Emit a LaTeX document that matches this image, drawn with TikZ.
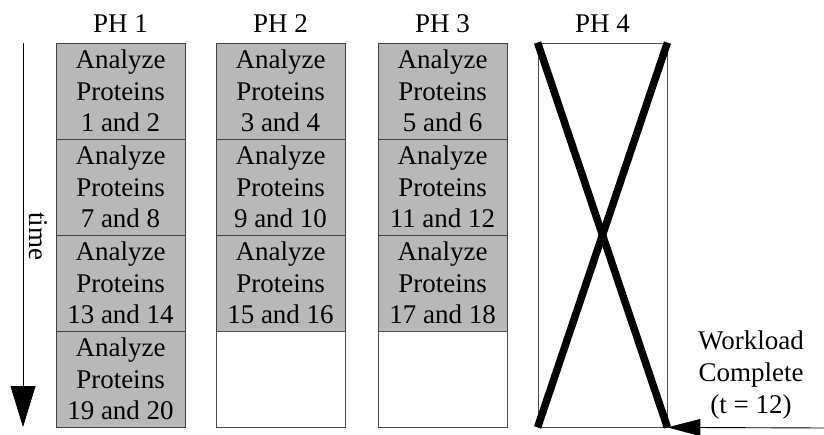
\documentclass[tikz,border=0pt]{standalone}
\usepackage{fontspec}
\setmainfont{Liberation Serif}
\usetikzlibrary{arrows.meta}
\definecolor{cellgray}{gray}{0.72}
\begin{document}
\begin{tikzpicture}[x=1pt,y=-1pt,
  txt/.style={font=\fontsize{27}{31.5}\selectfont, inner sep=0pt},
  cell/.style={txt, draw=black!75, line width=0.8pt, fill=cellgray,
    minimum width=129pt, minimum height=96pt, align=center},
  emptycell/.style={draw=black!70, line width=0.8pt, fill=white,
    minimum width=129pt, minimum height=96pt, inner sep=0pt},
  head/.style={txt},
  cross/.style={line width=7.5pt, black}]
\useasboundingbox (0,0) rectangle (824,435);

% processor headings
\node[head] (h1) at (120.5,24) {PH 1};
\node[head] (h2) at (280.5,24) {PH 2};
\node[head] (h3) at (442.5,24) {PH 3};
\node[head] (h4) at (602.5,24) {PH 4};

% PH 1
\node[cell] (a1) at (120.5,91)  {Analyze\\Proteins\\1 and 2};
\node[cell] (a2) at (120.5,187) {Analyze\\Proteins\\7 and 8};
\node[cell] (a3) at (120.5,283) {Analyze\\Proteins\\13 and 14};
\node[cell] (a4) at (120.5,379) {Analyze\\Proteins\\19 and 20};

% PH 2
\node[cell] (b1) at (280.5,91)  {Analyze\\Proteins\\3 and 4};
\node[cell] (b2) at (280.5,187) {Analyze\\Proteins\\9 and 10};
\node[cell] (b3) at (280.5,283) {Analyze\\Proteins\\15 and 16};
\node[emptycell] (b4) at (280.5,379) {};

% PH 3
\node[cell] (c1) at (442.5,91)  {Analyze\\Proteins\\5 and 6};
\node[cell] (c2) at (442.5,187) {Analyze\\Proteins\\11 and 12};
\node[cell] (c3) at (442.5,283) {Analyze\\Proteins\\17 and 18};
\node[emptycell] (c4) at (442.5,379) {};

% PH 4: idle processor, crossed out
\node[draw=black!70, line width=0.8pt, minimum width=129pt, minimum height=384pt,
  inner sep=0pt] (d) at (602.5,235) {};
\draw[cross] (d.north west) -- (d.south east);
\draw[cross] (d.north east) -- (d.south west);

% time axis
\coordinate (t0) at (23,43);
\coordinate (t1) at (23,427);
\draw[line width=0.9pt, -{Triangle[length=41pt,width=25pt]}] (t0) -- (t1);
\node[txt, rotate=-90] (time) at (38,236) {time};

% completion marker
\coordinate (e) at (824,428);
\draw[line width=0.9pt, -{Triangle[length=33pt,width=17pt]}] (e) -- (d.south east);
\node[txt, align=center, font=\fontsize{27}{32}\selectfont] (wl) at (751,375)
  {Workload\\Complete\\(t = 12)};
\end{tikzpicture}
\end{document}
